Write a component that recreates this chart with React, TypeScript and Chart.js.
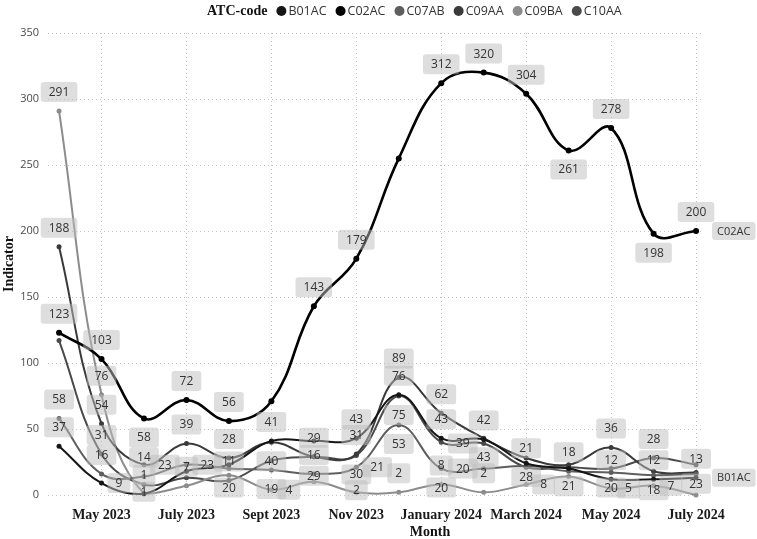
import { useEffect, useRef } from 'react';
import { Chart, registerables } from 'chart.js';

Chart.register(...registerables);

// Monthly indicator per ATC code, April 2023 – July 2024
const months = [
  'Apr 2023', 'May 2023', 'Jun 2023', 'Jul 2023', 'Aug 2023', 'Sep 2023', 'Oct 2023', 'Nov 2023',
  'Dec 2023', 'Jan 2024', 'Feb 2024', 'Mar 2024', 'Apr 2024', 'May 2024', 'Jun 2024', 'Jul 2024',
];
const axisTickIndex = [1, 3, 5, 7, 9, 11, 13, 15];
const axisTickLabels = ['May 2023', 'July 2023', 'Sept 2023', 'Nov 2023', 'January 2024', 'March 2024', 'May 2024', 'July 2024'];
const yTicks = [0, 50, 100, 150, 200, 250, 300, 350];

const b01ac = [37, 9, 1, 18, 23, 41, 41, 43, 76, 43, 42, 24, 20, 12, 12, 13];
const c02ac = [123, 103, 58, 72, 56, 71, 143, 179, 255, 312, 320, 304, 261, 278, 198, 200];
const c07ab = [58, 16, 14, 23, 20, 19, 16, 21, 53, 20, 20, 22, 18, 17, 15, 16];
const c09aa = [188, 54, 23, 39, 28, 40, 29, 31, 89, 62, 43, 28, 23, 36, 18, 17];
const c09ba = [291, 76, 1, 7, 15, 4, 10, 2, 2, 8, 2, 8, 14, 5, 7, 0];
const c10aa = [117, 31, 8, 13, 11, 26, 29, 30, 75, 40, 39, 21, 21, 20, 28, 23];

// value label side per point: a = above, b = below, r = right, l = left, c = on the point, - = hidden
const b01acLabelSide = 'arc--a-aaaa--aaa';
const c02acLabelSide = 'aabaa-aa-aaababa';
const c07abLabelSide = 'aaarbbarbbl-a---';
const c09aaLabelSide = 'aaraabaaaabb-ab-';
const c09baLabelSide = 'aaaa-r-caaar-rr-';
const c10aaLabelSide = '-a--a-bbb-labbab';

const seriesNames = ['B01AC', 'C02AC', 'C07AB', 'C09AA', 'C09BA', 'C10AA'];
const seriesValues = [b01ac, c02ac, c07ab, c09aa, c09ba, c10aa];
const seriesSides = [b01acLabelSide, c02acLabelSide, c07abLabelSide, c09aaLabelSide, c09baLabelSide, c10aaLabelSide];
const seriesColors = ['#151515', '#000000', '#5e5e5e', '#3a3a3a', '#8c8c8c', '#4a4a4a'];
const seriesWidths = [2, 2.6, 2, 2, 2, 2];
const endTagged = ['B01AC', 'C02AC'];

const SANS = '"Open Sans", "Noto Sans", sans-serif';
const SERIF = '"Liberation Serif", "DejaVu Serif", serif';

function roundRect(ctx: CanvasRenderingContext2D, x: number, y: number, w: number, h: number, r: number) {
  ctx.beginPath();
  ctx.moveTo(x + r, y);
  ctx.lineTo(x + w - r, y);
  ctx.quadraticCurveTo(x + w, y, x + w, y + r);
  ctx.lineTo(x + w, y + h - r);
  ctx.quadraticCurveTo(x + w, y + h, x + w - r, y + h);
  ctx.lineTo(x + r, y + h);
  ctx.quadraticCurveTo(x, y + h, x, y + h - r);
  ctx.lineTo(x, y + r);
  ctx.quadraticCurveTo(x, y, x + r, y);
  ctx.closePath();
}

function tag(ctx: CanvasRenderingContext2D, text: string, cx: number, cy: number, h: number) {
  const w = ctx.measureText(text).width + 16;
  ctx.fillStyle = 'rgba(190,190,190,0.5)';
  roundRect(ctx, cx - w / 2, cy - h / 2, w, h, 3);
  ctx.fill();
  ctx.fillStyle = '#333';
  ctx.fillText(text, cx, cy + 0.5);
}

const valueLabels = {
  id: 'valueLabels',
  afterDatasetsDraw(chart: any) {
    const ctx: CanvasRenderingContext2D = chart.ctx;
    ctx.save();
    ctx.font = `12px ${SANS}`;
    ctx.textAlign = 'center';
    ctx.textBaseline = 'middle';
    chart.data.datasets.forEach((ds: any, i: number) => {
      const meta = chart.getDatasetMeta(i);
      meta.data.forEach((pt: any, j: number) => {
        const side = ds.labelSide[j];
        if (side === '-') return;
        const text = String(ds.data[j].y);
        const w = ctx.measureText(text).width + 16;
        let cx = pt.x;
        let cy = pt.y;
        if (side === 'a') cy -= 19;
        else if (side === 'b') cy += 19;
        else if (side === 'c') cy -= 2;
        else if (side === 'r') cx += 6 + w / 2;
        else if (side === 'l') cx -= 6 + w / 2;
        tag(ctx, text, cx, cy, 20);
      });
      if (endTagged.includes(ds.label)) {
        const last = meta.data[meta.data.length - 1];
        ctx.font = `11px ${SANS}`;
        const w = ctx.measureText(ds.label).width + 10;
        const h = 18;
        const cx = last.x + 16 + w / 2;
        ctx.fillStyle = 'rgba(190,190,190,0.5)';
        roundRect(ctx, cx - w / 2, last.y - h / 2, w, h, 3);
        ctx.fill();
        ctx.fillStyle = '#333';
        ctx.fillText(ds.label, cx, last.y + 0.5);
        ctx.font = `12px ${SANS}`;
      }
    });
    ctx.restore();
  },
};

const frameText = {
  id: 'frameText',
  afterDraw(chart: any) {
    const ctx: CanvasRenderingContext2D = chart.ctx;
    const area = chart.chartArea;
    ctx.save();
    // legend
    ctx.textBaseline = 'middle';
    ctx.textAlign = 'left';
    ctx.font = `bold 14px ${SERIF}`;
    ctx.fillStyle = '#111';
    let x = 207;
    const y = 11;
    ctx.fillText('ATC-code', x, y);
    x += ctx.measureText('ATC-code').width + 9;
    ctx.font = `12.5px ${SANS}`;
    seriesNames.forEach((name, i) => {
      ctx.fillStyle = seriesColors[i];
      ctx.beginPath();
      ctx.arc(x + 5, y, 5, 0, Math.PI * 2);
      ctx.fill();
      x += 12;
      ctx.fillStyle = '#333';
      ctx.fillText(name, x, y + 0.5);
      x += ctx.measureText(name).width + 9;
    });
    // axis titles
    ctx.font = `bold 14px ${SERIF}`;
    ctx.fillStyle = '#111';
    ctx.textAlign = 'center';
    ctx.fillText('Month', 430, 532);
    ctx.translate(9, (area.top + area.bottom) / 2);
    ctx.rotate(-Math.PI / 2);
    ctx.fillText('Indicator', 0, 0);
    ctx.restore();
  },
};

export default function App() {
  const canvasRef = useRef<HTMLCanvasElement | null>(null);

  useEffect(() => {
    if (!canvasRef.current) return;
    const datasets = seriesNames.map((name, i) => ({
      label: name,
      data: seriesValues[i].map((v, j) => ({ x: j, y: v })),
      labelSide: seriesSides[i],
      borderColor: seriesColors[i],
      backgroundColor: seriesColors[i],
      borderWidth: seriesWidths[i],
      pointRadius: name === 'C02AC' ? 3 : 2.5,
      pointHoverRadius: 3,
      pointBorderWidth: 0,
      tension: 0.4,
      clip: false as any,
      order: name === 'C02AC' ? 0 : i + 1,
    }));

    const chart = new Chart(canvasRef.current, {
      type: 'line',
      data: { labels: months, datasets: datasets as any },
      options: {
        responsive: false,
        animation: false,
        devicePixelRatio: 1,
        layout: { padding: { top: 33, right: 55, left: 0, bottom: 0 } },
        plugins: { legend: { display: false }, tooltip: { enabled: false } },
        scales: {
          x: {
            type: 'linear',
            min: -0.26,
            max: 15.14,
            afterBuildTicks: (scale: any) => {
              scale.ticks = axisTickIndex.map((v) => ({ value: v }));
            },
            afterFit: (scale: any) => {
              scale.height = 44;
            },
            ticks: {
              autoSkip: false,
              maxRotation: 0,
              padding: 12,
              color: '#1a1a1a',
              font: { family: SERIF, weight: 'bold', size: 14 },
              callback: (value: any) => {
                const k = axisTickIndex.indexOf(Number(value));
                return k >= 0 ? axisTickLabels[k] : '';
              },
            },
            grid: { color: '#c4c4c4', lineWidth: 1, drawTicks: false },
            border: { display: false, dash: [1, 3] },
          },
          y: {
            min: 0,
            max: 350,
            afterBuildTicks: (scale: any) => {
              scale.ticks = yTicks.map((v) => ({ value: v }));
            },
            afterFit: (scale: any) => {
              scale.width = 48;
            },
            ticks: {
              padding: 9,
              color: '#4a4a4a',
              font: { family: SANS, size: 11 },
            },
            grid: { color: '#c4c4c4', lineWidth: 1, drawTicks: false },
            border: { display: false, dash: [1, 3] },
          },
        },
      },
      plugins: [valueLabels, frameText],
    });
    return () => chart.destroy();
  }, []);

  return (
    <div style={{ position: 'absolute', left: 0, top: 0, width: 757, height: 539, background: '#fff' }}>
      <canvas ref={canvasRef} width={757} height={539} style={{ display: 'block' }} />
    </div>
  );
}
